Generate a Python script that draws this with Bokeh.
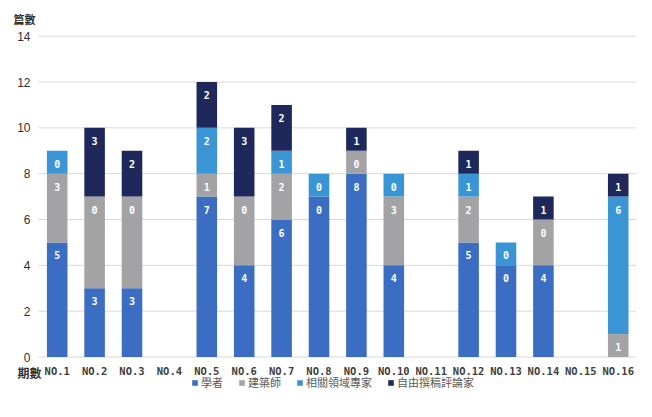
from bokeh.plotting import figure
from bokeh.models import ColumnDataSource, Range1d, Legend, LegendItem
from bokeh.core.properties import value
from bokeh.embed import file_html
from bokeh.resources import INLINE

issues = ["NO.1", "NO.2", "NO.3", "NO.4", "NO.5", "NO.6", "NO.7", "NO.8",
          "NO.9", "NO.10", "NO.11", "NO.12", "NO.13", "NO.14", "NO.15", "NO.16"]
series_names = ["學者", "建築師", "相關領域專家", "自由撰稿評論家"]
scholar = [5, 3, 3, 0, 7, 4, 6, 7, 8, 4, 0, 5, 4, 4, 0, 0]
architect = [3, 4, 4, 0, 1, 3, 2, 0, 1, 3, 0, 2, 0, 2, 0, 1]
related = [1, 0, 0, 0, 2, 0, 1, 1, 0, 1, 0, 1, 1, 0, 0, 6]
freelance = [0, 3, 2, 0, 2, 3, 2, 0, 1, 0, 0, 1, 0, 1, 0, 1]
# data labels as printed on the original chart
scholar_lbl = ["5", "3", "3", "", "7", "4", "6", "0", "8", "4", "", "5", "0", "4", "", ""]
architect_lbl = ["3", "0", "0", "", "1", "0", "2", "", "0", "3", "", "2", "", "0", "", "1"]
related_lbl = ["0", "", "", "", "2", "", "1", "0", "", "0", "", "1", "0", "", "", "6"]
freelance_lbl = ["", "3", "2", "", "2", "3", "2", "", "1", "", "", "1", "", "1", "", "1"]
y_ticks = [0, 2, 4, 6, 8, 10, 12, 14]
y_title = "篇數"
x_title = "期數"

colors = ["#3b6dc2", "#a3a3a5", "#3a95d4", "#1f285a"]
FONT = "Noto Sans CJK TC"

xs = list(range(1, len(issues) + 1))
src = ColumnDataSource(dict(x=xs, s=scholar, a=architect, r=related, f=freelance))

p = figure(width=636, height=401, output_backend="svg", toolbar_location=None,
           x_range=Range1d(-0.516, 16.489), y_range=Range1d(-1.942, 15.558),
           min_border=0)
p.outline_line_color = None
p.axis.visible = False
p.grid.visible = False

# gridlines
p.segment(x0=[0.5] * len(y_ticks), x1=[len(xs) + 0.5] * len(y_ticks), y0=y_ticks, y1=y_ticks,
          line_color="#d9d9d9", line_width=1)

renderers = p.vbar_stack(["s", "a", "r", "f"], x="x", width=0.55, source=src,
                         color=colors, line_color=None)

# bar labels
stacks = [scholar, architect, related, freelance]
labels = [scholar_lbl, architect_lbl, related_lbl, freelance_lbl]
lx, ly, lt = [], [], []
base = [0] * len(xs)
for vals, lbls in zip(stacks, labels):
    for i, (v, t) in enumerate(zip(vals, lbls)):
        top = base[i] + v
        if t != "" and v > 0:
            lx.append(xs[i]); ly.append(top); lt.append(t)
        base[i] = top
p.text(x=lx, y=ly, text=lt, text_color="white", text_font=value("DejaVu Sans Mono"),
       text_font_size="10px", text_font_style="bold", text_align="center",
       text_baseline="middle", y_offset=13)

# y tick labels
p.text(x=[0.5] * len(y_ticks), y=y_ticks, text=[str(t) for t in y_ticks],
       text_font=value("Liberation Sans"), text_font_size="12px", text_color="#303030",
       text_align="right", text_baseline="middle", x_offset=-8)

# x tick labels
p.text(x=xs, y=[0] * len(xs), text=issues, text_font=value("DejaVu Sans Mono"),
       text_font_size="10.5px", text_font_style="bold", text_color="#404040",
       text_align="center", text_baseline="middle", y_offset=14)

# axis titles
p.text(x=[0.5], y=[y_ticks[-1]], text=[y_title], text_font=value(FONT), text_font_size="11px",
       text_font_style="bold", text_color="#303030", text_align="center",
       text_baseline="middle", x_offset=-14, y_offset=-17)
p.text(x=[0.5], y=[0], text=[x_title], text_font=value(FONT), text_font_size="12px",
       text_font_style="bold", text_color="#303030", text_align="center",
       text_baseline="middle", x_offset=-9, y_offset=15)

legend = Legend(items=[LegendItem(label=n, renderers=[r]) for n, r in zip(series_names, renderers)],
                orientation="horizontal", location=(191, 11),
                label_text_font=FONT, label_text_font_size="11px", label_text_color="#595959",
                glyph_width=7, glyph_height=7, spacing=15, label_standoff=3,
                border_line_color=None, background_fill_alpha=0, padding=0, margin=0)
p.add_layout(legend, "center")

open("out.html", "w").write(file_html(p, INLINE))
